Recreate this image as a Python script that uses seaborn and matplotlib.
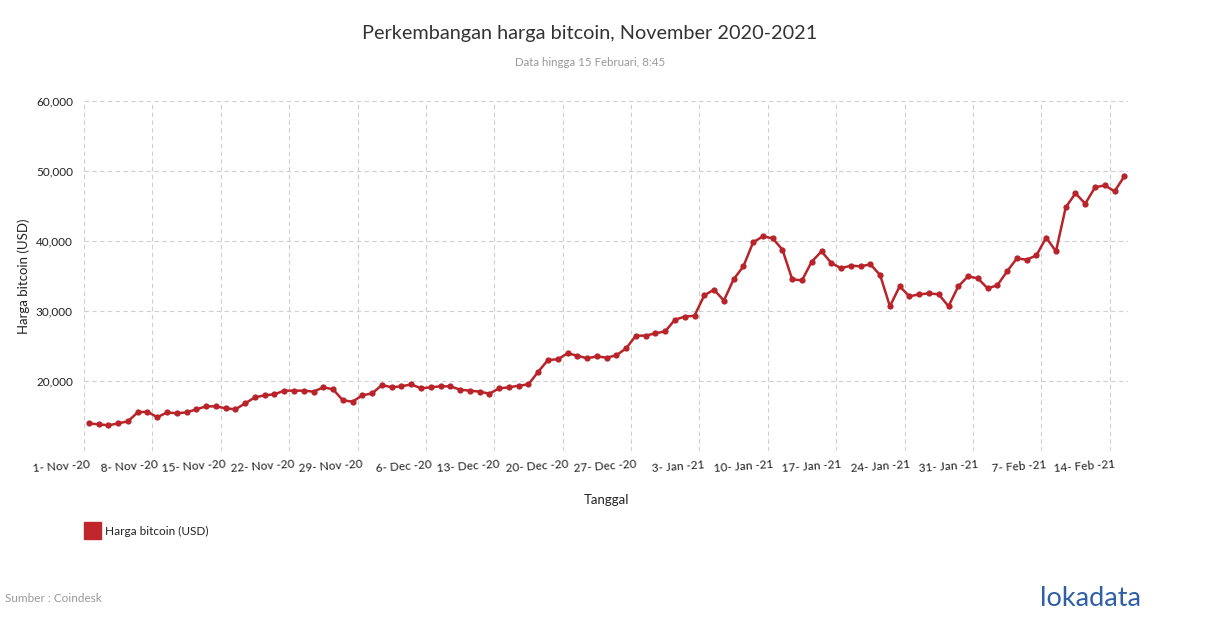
import pandas as pd
import seaborn as sns
import matplotlib.pyplot as plt
import matplotlib.transforms as mtransforms
from matplotlib.patches import Rectangle

# Daily bitcoin price (USD)
nov_2020 = [13950, 13810, 13670, 13950, 14240, 15520, 15620, 14810, 15520, 15380,
            15520, 15950, 16380, 16380, 16100, 15950, 16810, 17670, 17950, 18100,
            18620, 18620, 18620, 18480, 19100, 18810, 17240, 17050, 17950, 18240]
dec_2020 = [19430, 19100, 19240, 19520, 18950, 19100, 19240, 19240, 18760, 18620,
            18480, 18190, 18950, 19100, 19330, 19520, 21330, 23000, 23100, 23950,
            23620, 23240, 23520, 23330, 23670, 24670, 26480, 26480, 26810, 27100, 28760]
jan_2021 = [29190, 29330, 32240, 33050, 31480, 34520, 36380, 39810, 40670, 40380,
            38760, 34520, 34380, 37050, 38520, 36860, 36100, 36480, 36380, 36670,
            35140, 30670, 33520, 32100, 32380, 32520, 32380, 30670, 33520, 34950, 34670]
feb_2021 = [33240, 33670, 35670, 37520, 37330, 37950, 40480, 38520, 44810, 46810,
            45330, 47670, 47950, 47100, 49240]

prices = nov_2020 + dec_2020 + jan_2021 + feb_2021
# points sit in the middle of each day
dates = pd.date_range("2020-11-01 12:00", periods=len(prices), freq="D")

tick_dates = pd.date_range("2020-11-01", "2021-02-14", freq="7D")
tick_labels = ["1- Nov -20", "8- Nov -20", "15- Nov -20", "22- Nov -20", "29- Nov -20",
               "6- Dec -20", "13- Dec -20", "20- Dec -20", "27- Dec -20", "3- Jan -21",
               "10- Jan -21", "17- Jan -21", "24- Jan -21", "31- Jan -21", "7- Feb -21",
               "14- Feb -21"]
y_ticks = [10000, 20000, 30000, 40000, 50000, 60000]
y_labels = ["", "20,000", "30,000", "40,000", "50,000", "60,000"]

df = pd.DataFrame({"Tanggal": dates, "Harga": prices})

sns.set_theme(style="whitegrid")
plt.rcParams["font.family"] = ["Lato", "DejaVu Sans"]

line_color = "#b8242a"
text_color = "#333333"

fig = plt.figure(figsize=(12.1, 6.28), dpi=100)
ax = fig.add_axes([84 / 1210, 1 - 451 / 628, (1128 - 84) / 1210, (451 - 101) / 628])

sns.lineplot(data=df, x="Tanggal", y="Harga", ax=ax, color=line_color, linewidth=1.8,
             marker="o", markersize=4.5, markeredgewidth=0, markeredgecolor=line_color)

ax.set_xlim(pd.Timestamp("2020-11-01"), pd.Timestamp("2021-02-15 21:00"))
ax.set_ylim(10000, 60000)
ax.tick_params(axis="x", length=0, pad=5)
ax.tick_params(axis="y", length=0, pad=8)
ax.set_xticks(tick_dates)
ax.set_xticklabels(tick_labels, rotation=4, ha="right", rotation_mode="anchor",
                   fontsize=8.5, color="#222222")
# labels end a few px right of their gridline
offset = mtransforms.ScaledTranslation(0.05, -0.01, fig.dpi_scale_trans)
for lbl in ax.get_xticklabels():
    lbl.set_transform(lbl.get_transform() + offset)
ax.set_yticks(y_ticks)
ax.set_yticklabels(y_labels, fontsize=8.5, color="#222222")

ax.grid(True, color="#cfcfcf", linestyle=(0, (4, 3)), linewidth=0.8)
for s in ax.spines.values():
    s.set_visible(False)

ax.set_xlabel("Tanggal", fontsize=9.5, color="#222222", labelpad=14)
ax.set_ylabel("Harga bitcoin (USD)", fontsize=9.5, color="#222222", labelpad=4)

fig.text(590 / 1210, 1 - 33 / 628, "Perkembangan harga bitcoin, November 2020-2021",
         ha="center", va="center", fontsize=14.3, color=text_color)
fig.text(590 / 1210, 1 - 62 / 628, "Data hingga 15 Februari, 8:45",
         ha="center", va="center", fontsize=8.3, color="#999999")

# legend
fig.patches.append(Rectangle((84 / 1210, 1 - 539 / 628), 17 / 1210, 17 / 628,
                             transform=fig.transFigure, color="#c0272d"))
fig.text(105 / 1210, 1 - 531 / 628, "Harga bitcoin (USD)", ha="left", va="center",
         fontsize=8.5, color="#222222")

fig.text(5 / 1210, 1 - 598 / 628, "Sumber : Coindesk", ha="left", va="center",
         fontsize=8.5, color="#999999")
fig.text(1040 / 1210, 1 - 599 / 628, "lokadata", ha="left", va="center",
         fontsize=19.5, color="#2f5fa7")

fig.savefig("out.png", dpi=100)
